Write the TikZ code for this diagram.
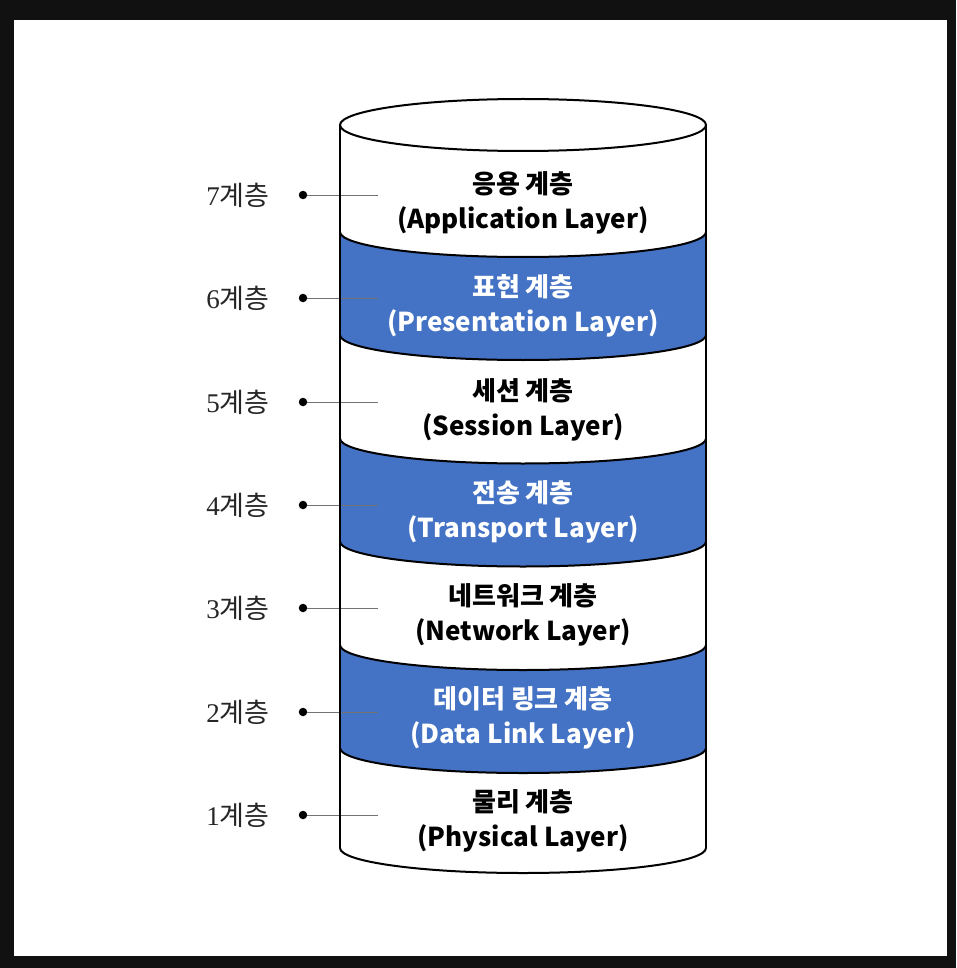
\documentclass[tikz,border=0pt]{standalone}
\usepackage{fontspec}
\newfontfamily\kr{Noto Sans CJK KR}
\newfontfamily\digitfont{Liberation Serif}
\definecolor{framecol}{HTML}{111111}
\definecolor{bandblue}{HTML}{4472C4}
\begin{document}
\begin{tikzpicture}[x=1pt,y=1pt,
  bandtext/.style={font=\kr\bfseries\fontsize{26}{35}\selectfont, align=center, text=black, inner sep=0pt},
  bluetext/.style={bandtext, text=white},
  layerlabel/.style={font=\kr\fontsize{27}{30}\selectfont, text=black!85, inner sep=0pt},
  dotnode/.style={circle, fill=black, inner sep=0pt, minimum size=8.5pt},
  leader/.style={draw=black!55, line width=0.9pt},
  outline/.style={draw=black, line width=2pt},
  blueband/.style={fill=bandblue}]
\fill[framecol] (0,0) rectangle (956,-968);
\fill[white] (14,-20) rectangle (947,-956);
\useasboundingbox (0,0) rectangle (956,-968);
% blue bands
\foreach \ya/\yb in {232/335, 438.5/541.5, 645/748}{
  \fill[blueband] (340,-\ya) arc[start angle=180,end angle=360,x radius=183,y radius=25]
    -- (706,-\yb) arc[start angle=0,end angle=-180,x radius=183,y radius=25] -- cycle;
}
% leaders
\foreach \k/\y in {7/195,6/298,5/402,4/505,3/608,2/712,1/815}{
  \node[layerlabel] (l\k) at (238,-\y) {{\digitfont\k}계층};
  \node[dotnode] (d\k) at (303,-\y) {};
  \coordinate (e\k) at (378,-\y);
  \draw[leader] (d\k) -- (e\k);
}
% outline
\draw[outline] (340,-125) -- (340,-848);
\draw[outline] (706,-125) -- (706,-848);
\draw[outline, fill=white] (523,-125) ellipse[x radius=183, y radius=26];
\foreach \y in {232,335,438.5,541.5,645,748,848}{
  \draw[outline] (340,-\y) arc[start angle=180,end angle=360,x radius=183,y radius=25];
}
% texts
\node[bandtext] (t7) at (523,-203) {응용 계층\\(Application Layer)};
\node[bluetext] (t6) at (523,-306) {표현 계층\\(Presentation Layer)};
\node[bandtext] (t5) at (523,-410) {세션 계층\\(Session Layer)};
\node[bluetext] (t4) at (523,-512) {전송 계층\\(Transport Layer)};
\node[bandtext] (t3) at (523,-615) {네트워크 계층\\(Network Layer)};
\node[bluetext] (t2) at (523,-718) {데이터 링크 계층\\(Data Link Layer)};
\node[bandtext] (t1) at (523,-821) {물리 계층\\(Physical Layer)};
\end{tikzpicture}
\end{document}
